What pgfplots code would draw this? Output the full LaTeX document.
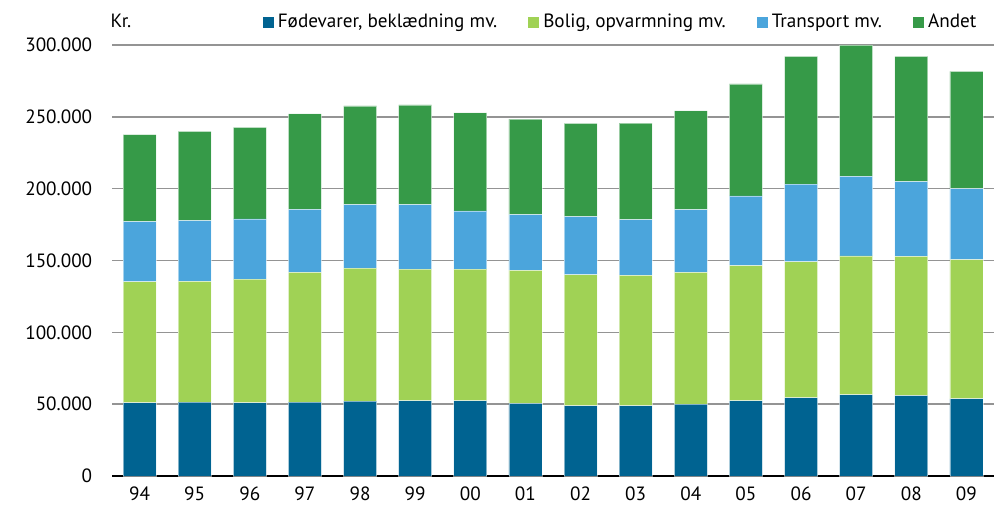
\documentclass[border=0pt]{standalone}
\usepackage{fontspec}
\setmainfont{PT Sans}
\usepackage{pgfplots}
\pgfplotsset{compat=1.18}
\definecolor{cA}{HTML}{006391}
\definecolor{cB}{HTML}{A0D255}
\definecolor{cC}{HTML}{4BA5DC}
\definecolor{cD}{HTML}{369A48}
\begin{document}
\fontsize{9.6}{11.5}\selectfont
\begin{tikzpicture}
\useasboundingbox (-56pt,-19.5pt) rectangle (444pt,238pt);
\begin{axis}[
  scale only axis,
  width=441pt, height=215.5pt,
  ybar stacked,
  bar width=16.5pt,
  xmin=-0.5, xmax=15.5,
  ymin=0, ymax=300000,
  xtick={0,...,15},
  xticklabels={94,95,96,97,98,99,00,01,02,03,04,05,06,07,08,09},
  ytick={0,50000,100000,150000,200000,250000,300000},
  yticklabels={0,50.000,100.000,150.000,200.000,250.000,300.000},
  scaled y ticks=false,
  major tick length=0pt,
  axis x line*=bottom,
  axis y line*=left,
  y axis line style={draw=none},
  x axis line style={draw=none},
  ymajorgrids,
  grid style={color=black!42, line width=0.75pt},
  yticklabel style={xshift=-6.5pt},
  xticklabel style={yshift=-2pt},
  clip=false,
  every axis plot/.append style={draw=white, draw opacity=0.5, line width=0.4pt},
  legend columns=4,
  legend style={draw=none, fill=none, at={(rel axis cs:0.985,1.053)}, anchor=east,
    /tikz/every even column/.append style={column sep=13.5pt}, inner sep=0pt},
  legend image code/.code={\fill[#1, draw=none] (0pt,-2.75pt) rectangle (5.5pt,2.75pt);},
  legend cell align=left,
]
\addplot[fill=cA] coordinates {(0,50900)(1,51400)(2,50900)(3,51400)(4,52100)(5,52300)(6,52300)(7,50500)(8,48800)(9,48800)(10,50000)(11,52300)(12,54400)(13,56500)(14,56000)(15,53700)};
\addlegendentry{Fødevarer, beklædning mv.}
\addplot[fill=cB] coordinates {(0,84300)(1,84000)(2,86100)(3,90300)(4,92600)(5,91700)(6,91700)(7,92600)(8,91200)(9,90800)(10,91700)(11,94200)(12,94700)(13,96700)(14,96800)(15,97000)};
\addlegendentry{Bolig, opvarmning mv.}
\addplot[fill=cC] coordinates {(0,41900)(1,42400)(2,41900)(3,43900)(4,44200)(5,44900)(6,40500)(7,38800)(8,40600)(9,38900)(10,43700)(11,48400)(12,54100)(13,55400)(14,52100)(15,49300)};
\addlegendentry{Transport mv.}
\addplot[fill=cD] coordinates {(0,60600)(1,62000)(2,63700)(3,66500)(4,68700)(5,69400)(6,68300)(7,66500)(8,64800)(9,67100)(10,68800)(11,78000)(12,88900)(13,91400)(14,87200)(15,81700)};
\addlegendentry{Andet}
\draw[black, line width=1pt] (rel axis cs:0,0) -- (rel axis cs:1,0);
\node[anchor=base west, inner sep=0pt] at (rel axis cs:-0.002,1.04) {Kr.};
\end{axis}
\end{tikzpicture}
\end{document}
